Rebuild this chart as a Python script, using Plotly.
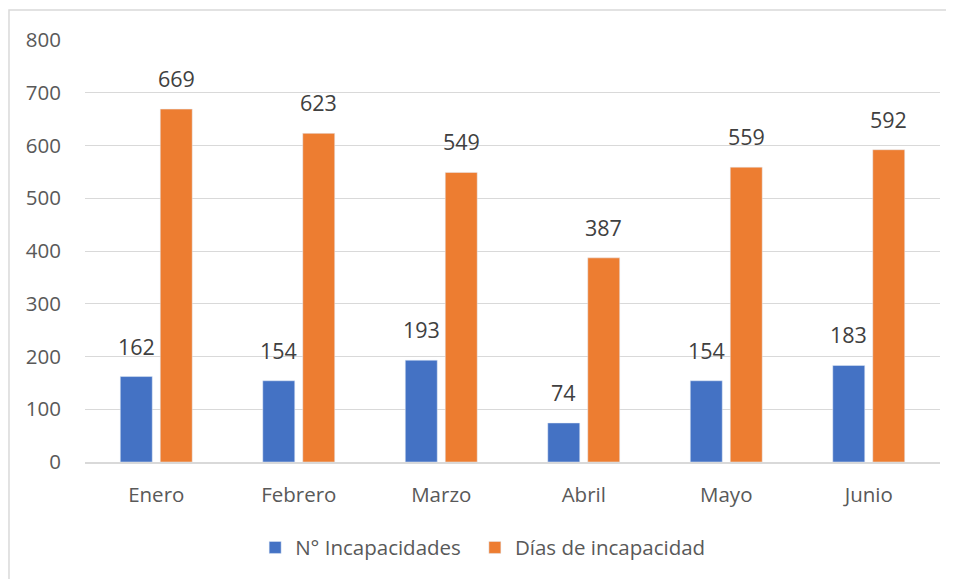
import plotly.graph_objects as go

meses = ["Enero", "Febrero", "Marzo", "Abril", "Mayo", "Junio"]
incapacidades = [162, 154, 193, 74, 154, 183]
dias = [669, 623, 549, 387, 559, 592]
y_ticks = [0, 100, 200, 300, 400, 500, 600, 700, 800]

fnt = "Open Sans, Noto Sans, sans-serif"
azul = "#4472C4"
naranja = "#ED7D31"

fig = go.Figure()
fig.add_trace(go.Bar(x=meses, y=incapacidades, name="N° Incapacidades", marker_color=azul,
                     legend="legend", showlegend=True))
fig.add_trace(go.Bar(x=meses, y=dias, name="Días de incapacidad", marker_color=naranja,
                     legend="legend2", showlegend=True))

# etiquetas de datos encima de cada barra
for serie, desplaz in [(incapacidades, -20), (dias, 20)]:
    for mes, val in zip(meses, serie):
        fig.add_annotation(x=mes, y=val, text=str(val), showarrow=False,
                           xshift=desplaz, yshift=14, yanchor="bottom",
                           font=dict(size=21.5, color="#404040", family=fnt))

leyenda = dict(orientation="h", xanchor="left", y=-0.2, yanchor="middle",
               font=dict(size=20.5, color="#595959"))

# la pagina tiene 8px de margen en el body, por eso 946x571
fig.update_layout(
    width=946, height=571,
    margin=dict(l=77, r=14, t=32, b=116),
    paper_bgcolor="white", plot_bgcolor="white",
    font=dict(family=fnt, size=20.5, color="#595959"),
    barmode="group", bargap=0.439, bargroupgap=0.2,
    showlegend=True,
    legend=dict(leyenda, x=0.199),
    legend2=dict(leyenda, x=0.456),
    shapes=[dict(type="rect", xref="paper", yref="paper", x0=-0.0889, x1=1.06,
                 y0=-0.3, y1=1.0709, line=dict(color="#D9D9D9", width=1.5))],
)
fig.update_yaxes(range=[0, 800], tickvals=y_ticks, showgrid=True, gridcolor="#D9D9D9",
                 zeroline=False, ticks="", ticklabelstandoff=23, showline=False,
                 automargin=False)
fig.update_xaxes(showline=True, linecolor="#D9D9D9", linewidth=1.5, ticks="",
                 ticklabelstandoff=14, automargin=False)

fig.write_html("out.html")
